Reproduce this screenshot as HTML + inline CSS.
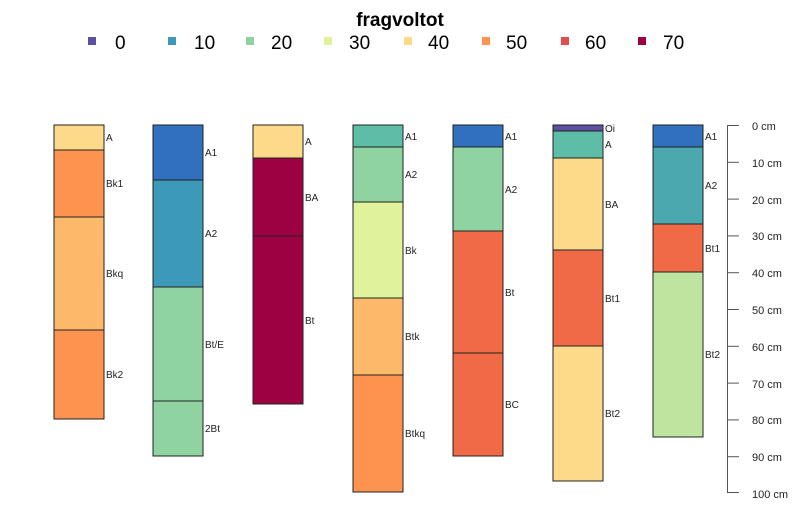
<!DOCTYPE html>
<html><head><meta charset="utf-8"><style>html,body{margin:0;padding:0;background:#fff;}</style></head>
<body>
<svg width="800" height="509" xmlns="http://www.w3.org/2000/svg" font-family="Liberation Sans, Arial, sans-serif">
<rect width="800" height="509" fill="#fff"/>
<text x="400" y="26" text-anchor="middle" font-size="19" font-weight="bold">fragvoltot</text>
<g font-size="19">
<rect x="88" y="37" width="8" height="8" fill="#5E4FA2"/><text x="115" y="49">0</text>
<rect x="168" y="37" width="8" height="8" fill="#3D99B8"/><text x="194" y="49">10</text>
<rect x="246" y="37" width="8" height="8" fill="#8ED3A0"/><text x="271" y="49">20</text>
<rect x="324" y="37" width="8" height="8" fill="#E0F39A"/><text x="349" y="49">30</text>
<rect x="404" y="37" width="8" height="8" fill="#FDD98A"/><text x="428" y="49">40</text>
<rect x="482" y="37" width="8" height="8" fill="#FC9450"/><text x="506" y="49">50</text>
<rect x="561" y="37" width="8" height="8" fill="#E34D4B"/><text x="585" y="49">60</text>
<rect x="638" y="37" width="8" height="8" fill="#9E0142"/><text x="663" y="49">70</text>
</g>
<g stroke="#222" stroke-width="1" font-size="10">
<rect x="54" y="125" width="50" height="25" fill="#FDD98A"/>
<rect x="54" y="150" width="50" height="67" fill="#FC9450"/>
<rect x="54" y="217" width="50" height="113" fill="#FDB96A"/>
<rect x="54" y="330" width="50" height="89" fill="#FC9450"/>
<rect x="153" y="125" width="50" height="55" fill="#3070BF"/>
<rect x="153" y="180" width="50" height="107" fill="#3D99B8"/>
<rect x="153" y="287" width="50" height="114" fill="#8ED3A0"/>
<rect x="153" y="401" width="50" height="55" fill="#8ED3A0"/>
<rect x="253" y="125" width="50" height="33" fill="#FDD98A"/>
<rect x="253" y="158" width="50" height="78" fill="#9E0142"/>
<rect x="253" y="236" width="50" height="168" fill="#9E0142"/>
<rect x="353" y="125" width="50" height="22" fill="#5DBDA6"/>
<rect x="353" y="147" width="50" height="55" fill="#8ED3A0"/>
<rect x="353" y="202" width="50" height="96" fill="#E0F39A"/>
<rect x="353" y="298" width="50" height="77" fill="#FDB96A"/>
<rect x="353" y="375" width="50" height="117" fill="#FC9450"/>
<rect x="453" y="125" width="50" height="22" fill="#3070BF"/>
<rect x="453" y="147" width="50" height="84" fill="#8ED3A0"/>
<rect x="453" y="231" width="50" height="122" fill="#F06A45"/>
<rect x="453" y="353" width="50" height="103" fill="#F06A45"/>
<rect x="553" y="125" width="50" height="6" fill="#5E4FA2"/>
<rect x="553" y="131" width="50" height="27" fill="#5DBDA6"/>
<rect x="553" y="158" width="50" height="92" fill="#FDD98A"/>
<rect x="553" y="250" width="50" height="96" fill="#F06A45"/>
<rect x="553" y="346" width="50" height="135" fill="#FDD98A"/>
<rect x="653" y="125" width="50" height="22" fill="#3070BF"/>
<rect x="653" y="147" width="50" height="77" fill="#4AA8AE"/>
<rect x="653" y="224" width="50" height="48" fill="#F06A45"/>
<rect x="653" y="272" width="50" height="165" fill="#BDE5A0"/>
</g>
<g font-size="10" fill="#222">
<text x="106" y="141">A</text><text x="106" y="187">Bk1</text><text x="106" y="277">Bkq</text><text x="106" y="378">Bk2</text>
<text x="205" y="156">A1</text><text x="205" y="237">A2</text><text x="205" y="348">Bt/E</text><text x="205" y="432">2Bt</text>
<text x="305" y="145">A</text><text x="305" y="201">BA</text><text x="305" y="324">Bt</text>
<text x="405" y="140">A1</text><text x="405" y="178">A2</text><text x="405" y="254">Bk</text><text x="405" y="340">Btk</text><text x="405" y="437">Btkq</text>
<text x="505" y="140">A1</text><text x="505" y="193">A2</text><text x="505" y="296">Bt</text><text x="505" y="408">BC</text>
<text x="605" y="132">Oi</text><text x="605" y="148">A</text><text x="605" y="208">BA</text><text x="605" y="302">Bt1</text><text x="605" y="417">Bt2</text>
<text x="705" y="140">A1</text><text x="705" y="189">A2</text><text x="705" y="252">Bt1</text><text x="705" y="358">Bt2</text>
</g>
<g stroke="#555" stroke-width="1">
<line x1="727.5" y1="125" x2="727.5" y2="493"/>
<line x1="727" y1="125.5" x2="739" y2="125.5"/>
<line x1="727" y1="162.3" x2="739" y2="162.3"/>
<line x1="727" y1="199.1" x2="739" y2="199.1"/>
<line x1="727" y1="235.9" x2="739" y2="235.9"/>
<line x1="727" y1="272.7" x2="739" y2="272.7"/>
<line x1="727" y1="309.5" x2="739" y2="309.5"/>
<line x1="727" y1="346.3" x2="739" y2="346.3"/>
<line x1="727" y1="383.1" x2="739" y2="383.1"/>
<line x1="727" y1="419.9" x2="739" y2="419.9"/>
<line x1="727" y1="456.7" x2="739" y2="456.7"/>
<line x1="727" y1="492.5" x2="739" y2="492.5"/>
</g>
<g font-size="11" fill="#222">
<text x="752" y="130">0 cm</text>
<text x="752" y="167">10 cm</text>
<text x="752" y="204">20 cm</text>
<text x="752" y="240">30 cm</text>
<text x="752" y="277">40 cm</text>
<text x="752" y="314">50 cm</text>
<text x="752" y="351">60 cm</text>
<text x="752" y="388">70 cm</text>
<text x="752" y="424">80 cm</text>
<text x="752" y="461">90 cm</text>
<text x="752" y="498">100 cm</text>
</g>
</svg>
</body></html>
